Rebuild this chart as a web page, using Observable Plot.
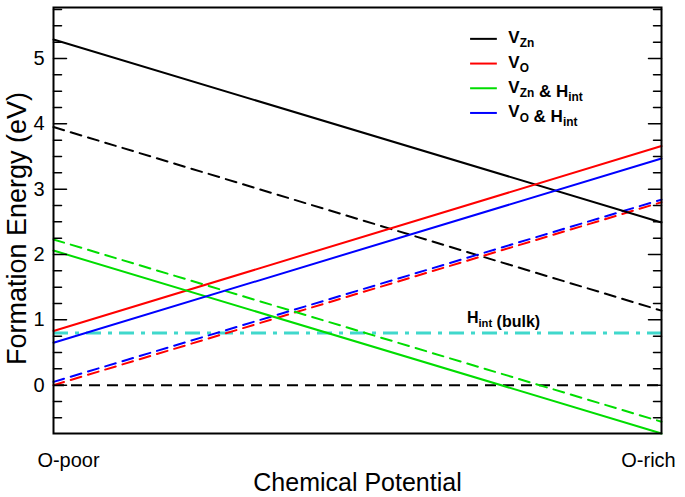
<!DOCTYPE html>
<html>
<head>
<meta charset="utf-8">
<script src="https://cdn.jsdelivr.net/npm/d3@7"></script>
<script src="https://cdn.jsdelivr.net/npm/@observablehq/plot@0.6"></script>
<style>
  html, body { margin: 0; padding: 0; background: #fff; }
  svg { font-family: "Liberation Sans", Arial, sans-serif; }
</style>
</head>
<body>
<div id="chart"></div>
<script>
// x: 0 = O-poor, 1 = O-rich
const xEnds = [0, 1];
const xLabels = ["O-poor", "O-rich"];

// Formation energy (eV) at O-poor and O-rich ends
const series = ["V_Zn", "V_O", "V_Zn & H_int", "V_O & H_int"];
const seriesColors = ["#000000", "#ff0000", "#00dd00", "#0000ff"];
const solidStart = [5.29, 0.83, 2.06, 0.65];
const solidEnd = [2.49, 3.66, -0.74, 3.47];
const dashedStart = [3.95, 0.00, 2.23, 0.05];
const dashedEnd = [1.14, 2.80, -0.56, 2.84];

const zeroLine = 0;
const hBulk = 0.80;
const hBulkLabel = "H_int (bulk)";

const yTicks = [0, 1, 2, 3, 4, 5];
const yMinorTicks = d3.range(-0.5, 5.76, 0.25).filter(v => Math.abs(v - Math.round(v)) > 1e-6);

const yDomain = [-0.74, 5.78];

const solidData = [];
const dashedData = [];
series.forEach((s, i) => {
  solidData.push({s, x: xEnds[0], y: solidStart[i]}, {s, x: xEnds[1], y: solidEnd[i]});
  dashedData.push({s, x: xEnds[0], y: dashedStart[i]}, {s, x: xEnds[1], y: dashedEnd[i]});
});

const tickLine = () => ({draw(ctx, l) { ctx.moveTo(0, 0); ctx.lineTo(0, -l); }});

// legend layout (in data units)
const legendRows = series.map((s, i) => ({s, y: 5.30 - i * 0.378}));

const plot = Plot.plot({
  width: 685,
  height: 497,
  marginLeft: 53,
  marginRight: 24,
  marginTop: 7,
  marginBottom: 64,
  style: {fontFamily: '"Liberation Sans", Arial, sans-serif', background: "#fff", overflow: "visible"},
  x: {domain: [0, 1], axis: null},
  y: {domain: yDomain, axis: null},
  color: {domain: series, range: seriesColors},
  marks: [
    // zero reference
    Plot.ruleY([zeroLine], {stroke: "#000", strokeWidth: 2, strokeDasharray: "11,7"}),
    // bulk H_int
    Plot.ruleY([hBulk], {stroke: "#40d8cc", strokeWidth: 3, strokeDasharray: "15,7,4,7"}),
    Plot.text([hBulkLabel], {x: 0.68, y: hBulk, text: d => d, textAnchor: "start", dy: -15, fontSize: 16, fontWeight: "bold", fill: "#000"}),
    // dashed lines
    Plot.line(dashedData, {x: "x", y: "y", z: "s", stroke: "s", strokeWidth: 2, strokeDasharray: "11,7"}),
    // solid lines
    Plot.line(solidData, {x: "x", y: "y", z: "s", stroke: "s", strokeWidth: 2}),
    // legend
    Plot.ruleY(legendRows, {y: "y", x1: 0.686, x2: 0.730, stroke: "s", strokeWidth: 2}),
    Plot.text(legendRows, {y: "y", x: 0.748, text: "s", textAnchor: "start", fontSize: 17, fontWeight: "bold", fill: "#000", dy: -1}),
    // ticks
    Plot.vector(yTicks, {y: d => d, frameAnchor: "left", rotate: 90, length: 13, anchor: "start", shape: tickLine(), stroke: "#000", strokeWidth: 1.5}),
    Plot.vector(yTicks, {y: d => d, frameAnchor: "right", rotate: -90, length: 13, anchor: "start", shape: tickLine(), stroke: "#000", strokeWidth: 1.5}),
    Plot.vector(yMinorTicks, {y: d => d, frameAnchor: "left", rotate: 90, length: 8, anchor: "start", shape: tickLine(), stroke: "#000", strokeWidth: 1.5}),
    Plot.vector(yMinorTicks, {y: d => d, frameAnchor: "right", rotate: -90, length: 8, anchor: "start", shape: tickLine(), stroke: "#000", strokeWidth: 1.5}),
    Plot.axisY({ticks: yTicks, tickSize: 0, tickPadding: 9, fontSize: 20, label: null, anchor: "left", tickFormat: d => String(d)}),
    // frame
    Plot.frame({stroke: "#000", strokeWidth: 2}),
    // x end labels
    Plot.text([xLabels[0]], {x: xEnds[0], text: d => d, frameAnchor: "bottom", dy: 33, dx: 15, fontSize: 20, fill: "#000"}),
    Plot.text([xLabels[1]], {x: xEnds[1], text: d => d, frameAnchor: "bottom", dy: 33, dx: -13, fontSize: 20, fill: "#000"}),
    // axis titles
    Plot.text(["Chemical Potential"], {frameAnchor: "bottom", dy: 57, fontSize: 25, fill: "#000"}),
    Plot.text(["Formation Energy (eV)"], {frameAnchor: "left", textAnchor: "middle", dx: -36, dy: 8, rotate: -90, fontSize: 27, fill: "#000"})
  ]
});

// subscripts: turn "A_sub" into A<tspan>sub</tspan> shifted down
d3.select(plot).selectAll("text").each(function () {
  const el = this;
  const targets = el.querySelectorAll("tspan").length ? Array.from(el.querySelectorAll("tspan")) : [el];
  targets.forEach(t => {
    const txt = t.textContent;
    if (!txt.includes("_")) return;
    t.textContent = "";
    const re = /([^_]*?)_([A-Za-z]+)/g;
    let last = 0, m;
    const sel = d3.select(t);
    while ((m = re.exec(txt)) !== null) {
      if (m[1]) sel.append("tspan").text(m[1]);
      sel.append("tspan").attr("dy", "0.35em").attr("font-size", "0.7em").text(m[2]);
      sel.append("tspan").attr("dy", "-0.245em").text("");
      last = re.lastIndex;
    }
    if (last < txt.length) sel.append("tspan").text(txt.slice(last));
  });
});

document.getElementById("chart").appendChild(plot);
</script>
</body>
</html>
